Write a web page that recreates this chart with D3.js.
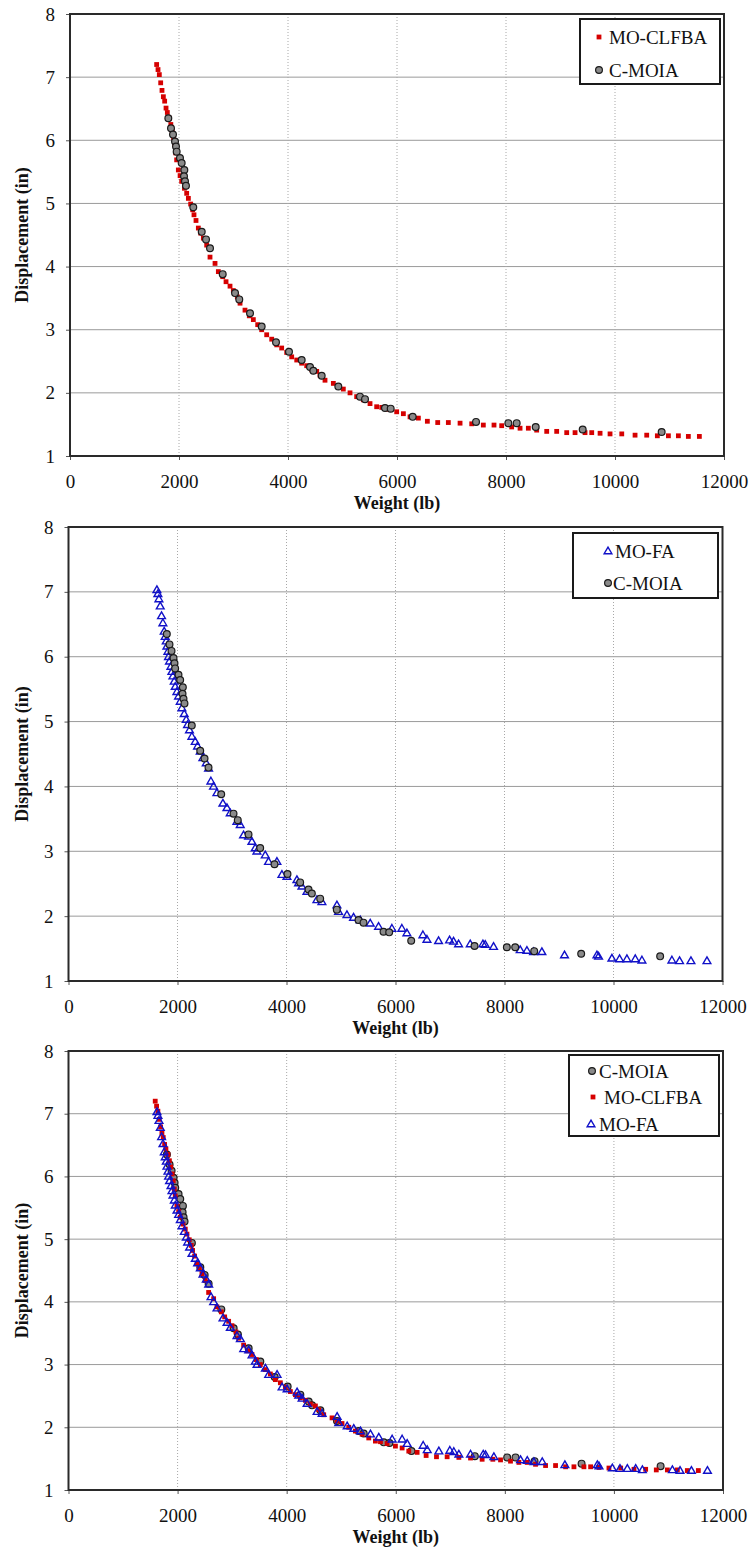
<!DOCTYPE html>
<html>
<head>
<meta charset="utf-8">
<script src="https://cdn.jsdelivr.net/npm/d3@7"></script>
<style>
  body { margin: 0; background: #fff; }
  svg text { font-family: "Liberation Serif", "Times New Roman", serif; fill: #111; }
</style>
</head>
<body>
<div id="chart"></div>
<script>
// C-MOIA results (weight lb, displacement in)
var cmoiaW = [1804, 1853, 1890, 1927, 1945, 1957, 2018, 2049, 2098, 2092, 2110, 2128, 2262, 2417, 2496, 2569,
  2802, 3028, 3106, 3303, 3517, 3780, 4018, 4251, 4404, 4465, 4618, 4923, 5321, 5413, 5780, 5884, 6288,
  7450, 8043, 8196, 8545, 9407, 10856];
var cmoiaD = [6.35, 6.19, 6.09, 5.98, 5.90, 5.82, 5.72, 5.64, 5.53, 5.43, 5.35, 5.28, 4.94, 4.55, 4.43, 4.29,
  3.88, 3.58, 3.48, 3.26, 3.05, 2.80, 2.65, 2.52, 2.41, 2.35, 2.27, 2.10, 1.94, 1.90, 1.76, 1.75, 1.62,
  1.54, 1.52, 1.52, 1.46, 1.42, 1.38];

// MO-CLFBA results
var clfbaW = [1590, 1615, 1639, 1664, 1688, 1713, 1737, 1762, 1786, 1823, 1850, 1875, 1900, 1920, 1940, 1957,
  1988, 2020, 2049, 2100, 2141, 2172, 2214, 2251, 2275, 2312, 2355, 2398, 2447, 2508, 2569, 2661, 2722, 2802,
  2863, 2936, 2997, 3070, 3120, 3211, 3290, 3364, 3444, 3517, 3609, 3701, 3793, 3884, 3976, 4068, 4160, 4251,
  4343, 4435, 4527, 4588, 4679, 4832, 4923, 5015, 5138, 5260, 5382, 5505, 5627, 5720, 5841, 5994, 6117, 6239,
  6392, 6557, 6747, 6942, 7157, 7371, 7584, 7780, 7921, 8104, 8258, 8410, 8563, 8747, 8930, 9114, 9267, 9450,
  9573, 9726, 9909, 10124, 10368, 10582, 10777, 10980, 11163, 11346, 11548];
var clfbaD = [7.20, 7.12, 7.04, 6.91, 6.79, 6.69, 6.62, 6.51, 6.44, 6.35, 6.25, 6.15, 6.04, 5.93, 5.80, 5.69,
  5.53, 5.44, 5.35, 5.24, 5.16, 5.08, 4.99, 4.90, 4.82, 4.73, 4.61, 4.53, 4.45, 4.34, 4.15, 4.05, 3.92, 3.84,
  3.76, 3.69, 3.62, 3.52, 3.42, 3.31, 3.22, 3.16, 3.08, 3.00, 2.92, 2.85, 2.76, 2.71, 2.64, 2.57, 2.52, 2.47,
  2.43, 2.37, 2.34, 2.28, 2.20, 2.15, 2.10, 2.06, 2.00, 1.94, 1.89, 1.83, 1.78, 1.77, 1.74, 1.70, 1.67, 1.62,
  1.60, 1.55, 1.53, 1.53, 1.52, 1.51, 1.49, 1.49, 1.48, 1.46, 1.44, 1.44, 1.41, 1.39, 1.39, 1.37, 1.37, 1.37,
  1.37, 1.36, 1.35, 1.35, 1.33, 1.33, 1.32, 1.32, 1.32, 1.31, 1.31];

// MO-FA results
var faW = [1622, 1640, 1659, 1683, 1707, 1732, 1756, 1774, 1793, 1805, 1824, 1835, 1853, 1879, 1897, 1916,
  1940, 1958, 1989, 2019, 2050, 2081, 2123, 2160, 2184, 2220, 2264, 2325, 2368, 2417, 2466, 2527, 2570, 2613,
  2661, 2723, 2833, 2907, 2967, 3090, 3151, 3212, 3304, 3365, 3426, 3457, 3610, 3670, 3824, 3916, 4008, 4191,
  4221, 4283, 4375, 4558, 4650, 4925, 4955, 5109, 5230, 5353, 5536, 5689, 5934, 6117, 6209, 6503, 6577, 6790,
  6992, 7065, 7157, 7371, 7604, 7646, 7799, 8288, 8411, 8533, 8686, 9101, 9696, 9726, 9971, 10111, 10246,
  10399, 10522, 11072, 11212, 11421, 11715];
var faD = [7.03, 6.97, 6.89, 6.78, 6.63, 6.52, 6.39, 6.31, 6.24, 6.16, 6.08, 6.00, 5.93, 5.85, 5.77, 5.70,
  5.62, 5.54, 5.46, 5.39, 5.31, 5.21, 5.12, 5.03, 4.95, 4.87, 4.77, 4.69, 4.62, 4.54, 4.44, 4.36, 4.28, 4.08,
  4.00, 3.90, 3.74, 3.67, 3.59, 3.46, 3.41, 3.25, 3.23, 3.15, 3.05, 3.00, 2.94, 2.84, 2.84, 2.64, 2.61, 2.56,
  2.51, 2.46, 2.38, 2.25, 2.22, 2.17, 2.07, 2.02, 1.98, 1.94, 1.89, 1.84, 1.81, 1.81, 1.74, 1.71, 1.64, 1.62,
  1.63, 1.61, 1.57, 1.57, 1.57, 1.56, 1.53, 1.48, 1.47, 1.45, 1.45, 1.40, 1.40, 1.38, 1.35, 1.34, 1.34,
  1.34, 1.32, 1.32, 1.31, 1.31, 1.31];

var xTicks = [0, 2000, 4000, 6000, 8000, 10000, 12000];
var yTicks = [1, 2, 3, 4, 5, 6, 7, 8];

function zip(w, d) { return w.map(function(v, i) { return {w: v, d: d[i]}; }); }

var series = {
  cmoia: {name: "C-MOIA", data: zip(cmoiaW, cmoiaD), type: "circle"},
  clfba: {name: "MO-CLFBA", data: zip(clfbaW, clfbaD), type: "square"},
  fa: {name: "MO-FA", data: zip(faW, faD), type: "triangle"}
};

var svg = d3.select("#chart").append("svg")
  .attr("width", 752)
  .attr("height", 1551);

// one block per panel: plot box, which series (draw order) and legend layout
var panels = [
  {left: 70, right: 724, top: 14, bottom: 456, draw: ["clfba", "cmoia"],
    legend: {x: 580, y: 19, w: 140, h: 65, items: [["clfba", 599, 37, 609], ["cmoia", 599, 70, 609]]}},
  {left: 68.5, right: 722.5, top: 527, bottom: 981, draw: ["fa", "cmoia"],
    legend: {x: 573, y: 533, w: 145, h: 65, items: [["fa", 608, 551, 615], ["cmoia", 608, 583, 613]]}},
  {left: 68.5, right: 723, top: 1051, bottom: 1490, draw: ["cmoia", "clfba", "fa"],
    legend: {x: 569, y: 1055, w: 150, h: 81, items: [["cmoia", 592, 1071, 599], ["clfba", 593, 1097, 604], ["fa", 591, 1124, 599]]}}
];

function drawMarker(g, type, x, y) {
  if (type == "circle") {
    g.append("circle").attr("cx", x).attr("cy", y).attr("r", 3.4)
      .attr("fill", "#8a8a8a").attr("stroke", "#1a1a1a").attr("stroke-width", 1.2);
  } else if (type == "square") {
    g.append("rect").attr("x", x - 2.4).attr("y", y - 2.4).attr("width", 4.8).attr("height", 4.8)
      .attr("fill", "#d60000");
  } else {
    g.append("path").attr("d", d3.symbol().type(d3.symbolTriangle).size(26)())
      .attr("transform", "translate(" + x + "," + (y + 0.5) + ")")
      .attr("fill", "none").attr("stroke", "#1111c8").attr("stroke-width", 1.4);
  }
}

panels.forEach(function(p) {
  var x = d3.scaleLinear().domain([0, 12000]).range([p.left, p.right]);
  var y = d3.scaleLinear().domain([1, 8]).range([p.bottom, p.top]);
  var g = svg.append("g");

  // grid: solid horizontal, dotted vertical
  g.selectAll(".hg").data(yTicks.slice(1, -1)).enter().append("line")
    .attr("x1", p.left).attr("x2", p.right)
    .attr("y1", function(d) { return y(d); }).attr("y2", function(d) { return y(d); })
    .attr("stroke", "#9a9a9a").attr("stroke-width", 1);
  g.selectAll(".vg").data(xTicks.slice(1, -1)).enter().append("line")
    .attr("y1", p.top).attr("y2", p.bottom)
    .attr("x1", function(d) { return x(d); }).attr("x2", function(d) { return x(d); })
    .attr("stroke", "#a8a8a8").attr("stroke-width", 1).attr("stroke-dasharray", "1,2");

  // axes
  var xAxis = g.append("g").attr("transform", "translate(0," + p.bottom + ")")
    .call(d3.axisBottom(x).tickValues(xTicks).tickFormat(d3.format("d")).tickSize(4).tickPadding(10));
  var yAxis = g.append("g").attr("transform", "translate(" + p.left + ",0)")
    .call(d3.axisLeft(y).tickValues(yTicks).tickFormat(d3.format("d")).tickSize(4).tickPadding(11));
  [xAxis, yAxis].forEach(function(a) {
    a.select(".domain").remove();
    a.selectAll("line").attr("stroke", "#555");
    a.selectAll("text").attr("font-size", 19).attr("fill", "#111");
  });
  xAxis.selectAll("text").attr("dy", "0.95em");

  // plot frame
  g.append("rect").attr("x", p.left).attr("y", p.top)
    .attr("width", p.right - p.left).attr("height", p.bottom - p.top)
    .attr("fill", "none").attr("stroke", "#2a2a2a").attr("stroke-width", 2);

  // points
  p.draw.forEach(function(key) {
    var s = series[key];
    var sg = g.append("g");
    s.data.forEach(function(d) { drawMarker(sg, s.type, x(d.w), y(d.d)); });
  });

  // titles
  g.append("text").attr("x", (p.left + p.right) / 2).attr("y", p.bottom + 53)
    .attr("text-anchor", "middle").attr("font-size", 18).attr("font-weight", "bold")
    .text("Weight (lb)");
  g.append("text")
    .attr("transform", "translate(28," + (p.top + p.bottom) / 2 + ") rotate(-90)")
    .attr("text-anchor", "middle").attr("font-size", 18).attr("font-weight", "bold")
    .text("Displacement (in)");

  // legend
  var L = p.legend;
  g.append("rect").attr("x", L.x).attr("y", L.y).attr("width", L.w).attr("height", L.h)
    .attr("fill", "#fff").attr("stroke", "#1a1a1a").attr("stroke-width", 2);
  L.items.forEach(function(it) {
    var s = series[it[0]];
    drawMarker(g, s.type, it[1], it[2]);
    g.append("text").attr("x", it[3]).attr("y", it[2] + 6.5)
      .attr("font-size", 19).text(s.name);
  });
});
</script>
</body>
</html>
